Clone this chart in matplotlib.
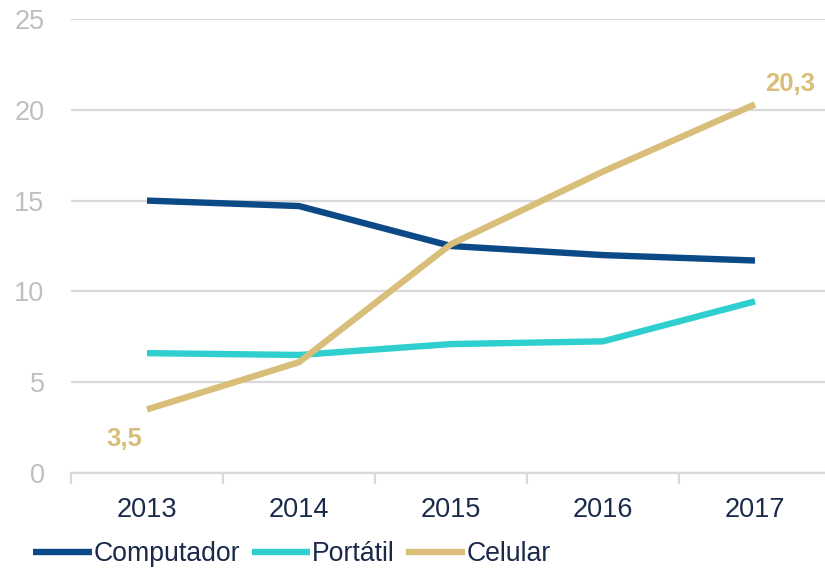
import matplotlib.pyplot as plt
import numpy as np

plt.rcParams['font.family'] = ['Liberation Sans', 'DejaVu Sans']

years = ['2013', '2014', '2015', '2016', '2017']
computador = [15.0, 14.7, 12.5, 12.0, 11.7]
portatil = [6.6, 6.5, 7.1, 7.25, 9.45]
celular = [3.5, 6.1, 12.6, 16.6, 20.3]

navy = '#0b4a86'
cyan = '#2fcfcf'
gold = '#d8be78'
text_dark = '#1b2a4a'
grid_gray = '#d9d9d9'

fig = plt.figure(figsize=(8.25, 5.68), dpi=100)
ax = fig.add_axes([71 / 825, 1 - 473 / 568, 760 / 825, 454 / 568])

x = np.arange(len(years))
lw = 4.6
ax.plot(x, computador, color=navy, lw=lw, label='Computador', solid_capstyle='butt')
ax.plot(x, portatil, color=cyan, lw=lw, label='Portátil', solid_capstyle='butt')
ax.plot(x, celular, color=gold, lw=lw, label='Celular', solid_capstyle='butt')

ax.set_xlim(-0.5, 4.5)
ax.set_ylim(0, 25)
ax.set_yticks([0, 5, 10, 15, 20, 25])
ax.yaxis.grid(True, color=grid_gray, lw=1.6)
ax.set_axisbelow(True)
for s in ['top', 'right', 'left']:
    ax.spines[s].set_visible(False)
ax.spines['bottom'].set_color(grid_gray)
ax.spines['bottom'].set_linewidth(1.6)

ax.set_xticks(x)
ax.set_xticklabels(years)
ax.set_xticks(np.arange(-0.5, 5, 1), minor=True)
ax.tick_params(axis='x', which='major', length=0, pad=17, labelsize=19.5, labelcolor=text_dark)
ax.tick_params(axis='x', which='minor', length=8, width=1.6, color=grid_gray)
ax.tick_params(axis='y', length=0, pad=19, labelsize=19.5, labelcolor='#bfbfbf')

ax.annotate('3,5', (0, celular[0]), xytext=(-16, -21), textcoords='offset points',
            ha='center', va='center', color=gold, fontsize=18.5, fontweight='bold')
ax.annotate('20,3', (4, celular[-1]), xytext=(25, 14.5), textcoords='offset points',
            ha='center', va='center', color=gold, fontsize=18.5, fontweight='bold')

fig.legend(loc='lower left', bbox_to_anchor=(0.027, -0.017), ncol=3, frameon=False,
           fontsize=19.2, labelcolor=text_dark, handlelength=2.2, handletextpad=0.08,
           columnspacing=0.42, borderaxespad=0)

fig.savefig('out.png', dpi=100)
